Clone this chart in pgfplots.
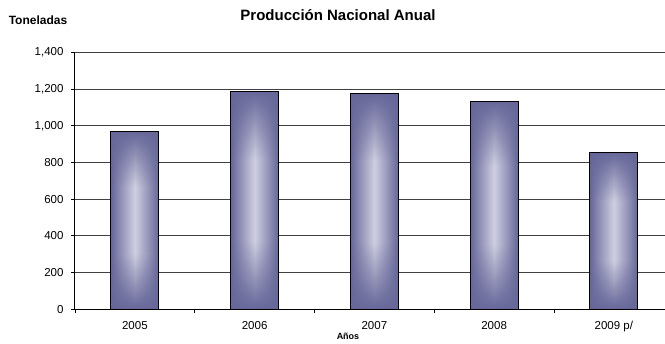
\documentclass[border=0pt]{standalone}
\usepackage{fontspec}
\setmainfont{Liberation Sans}
\usepackage{pgfplots}
\pgfplotsset{compat=1.18}
\pgfdeclarefunctionalshading{barshade}{\pgfpoint{0bp}{0bp}}{\pgfpoint{100bp}{100bp}}{}{
 50 sub abs 25 div 1 exch sub 1.6 mul dup 0 lt {pop 0} if dup 1 gt {pop 1} if
 exch 50 sub abs 25 div 1 exch sub dup 0 lt {pop 0} if
 mul
 dup 0.41 mul 0.40 add
 exch dup 0.41 mul 0.40 add
 exch 0.28 mul 0.60 add
}
\pgfplotsset{barstyle/.style={ybar, bar width=0.4, bar shift=0pt, draw=black, line width=1pt, shade, shading=barshade, mark=none}}
\begin{document}
\begin{tikzpicture}
\path[use as bounding box] (0,0) rectangle (665pt,344pt);
\begin{axis}[
  at={(75pt,34.7pt)}, anchor=south west,
  scale only axis, width=590pt, height=257pt,
  xmin=-0.5, xmax=4.427, ymin=0, ymax=1400,
  axis x line*=bottom, axis y line*=left,
  axis line style={black, line width=1pt, -},
  xtick={0,1,2,3,4},
  xticklabels={2005,2006,2007,2008,2009 p/},
  minor xtick={-0.5,0.5,1.5,2.5,3.5},
  major x tick style={draw=none},
  minor tick length=4pt,
  tick align=outside,
  tick style={black, line width=0.8pt},
  ytick={0,200,...,1400},
  major tick length=4pt,
  ymajorgrids,
  grid style={black!75, line width=0.8pt},
  /pgf/number format/assume math mode=true,
  /pgf/number format/1000 sep={,},
  ticklabel style={font=\fontsize{11.5}{13}\selectfont},
  xticklabel style={yshift=-4.5pt},
  yticklabel style={xshift=-4pt},
  clip=false,
]
\addplot[barstyle] coordinates {(0,970)};
\addplot[barstyle] coordinates {(1,1188)};
\addplot[barstyle] coordinates {(2,1173)};
\addplot[barstyle] coordinates {(3,1134)};
\addplot[barstyle] coordinates {(4,855)};
\end{axis}
\node[font=\bfseries\fontsize{15}{17}\selectfont] at (338pt,329pt) {Producción Nacional Anual};
\node[font=\bfseries\fontsize{12}{14}\selectfont] at (38pt,324pt) {Toneladas};
\node[font=\bfseries\fontsize{9}{11}\selectfont] at (348pt,8pt) {Años};
\end{tikzpicture}
\end{document}
